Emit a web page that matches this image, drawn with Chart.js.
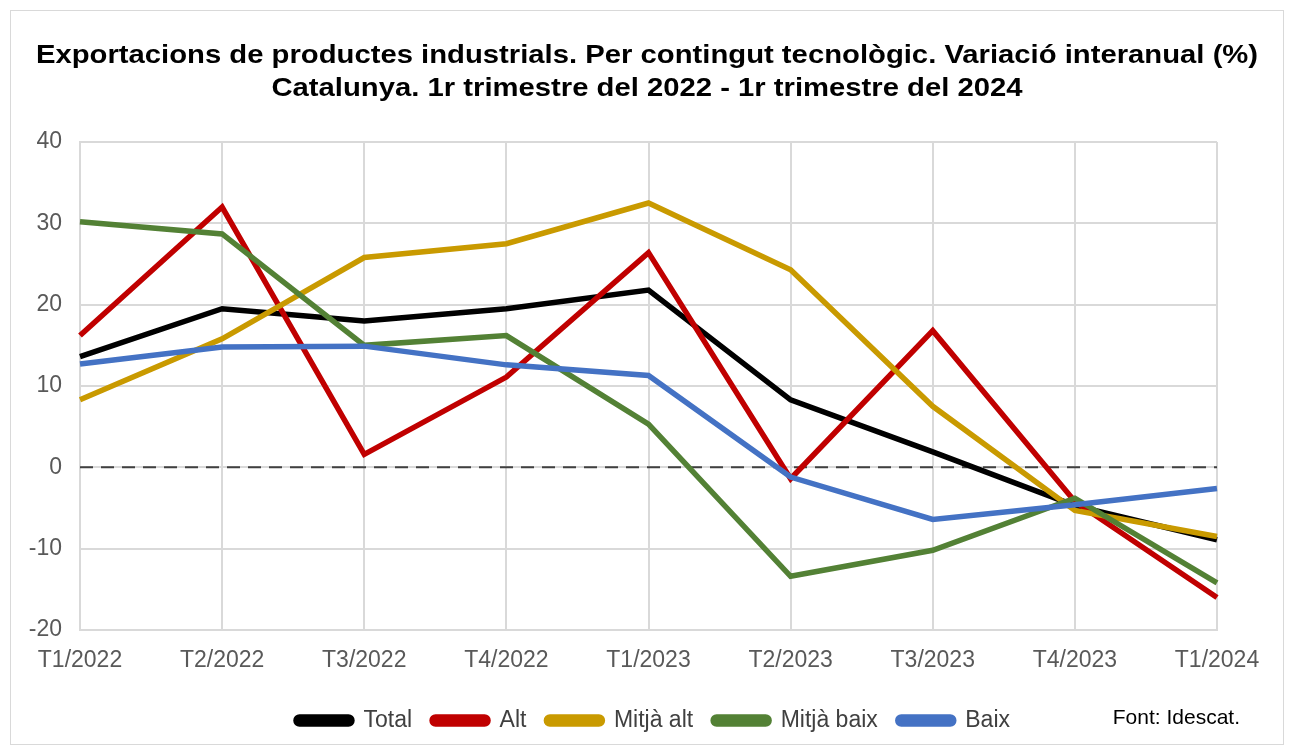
<!DOCTYPE html>
<html>
<head>
<meta charset="utf-8">
<script src="https://cdn.jsdelivr.net/npm/chart.js@4"></script>
<style>
  html, body { margin: 0; padding: 0; background: #fff; }
  #wrap { position: relative; width: 1294px; height: 751px; }
</style>
</head>
<body>
<div id="wrap"><canvas id="chart" width="1294" height="751"></canvas></div>
<script>
const quarters = ['T1/2022', 'T2/2022', 'T3/2022', 'T4/2022', 'T1/2023', 'T2/2023', 'T3/2023', 'T4/2023', 'T1/2024'];

const total     = [13.6, 19.5, 18.0, 19.5, 21.8, 8.3, 1.9, -4.7, -8.9];
const alt       = [16.2, 32.0, 1.6, 11.1, 26.4, -1.4, 16.8, -4.2, -16.0];
const mitjaAlt  = [8.3, 15.8, 25.8, 27.5, 32.5, 24.3, 7.5, -5.3, -8.5];
const mitjaBaix = [30.2, 28.7, 15.0, 16.2, 5.3, -13.4, -10.2, -3.8, -14.2];
const baix      = [12.7, 14.8, 14.9, 12.6, 11.3, -1.2, -6.4, -4.6, -2.6];
const zeroLine  = [0, 0, 0, 0, 0, 0, 0, 0, 0];

const yTicks = [-20, -10, 0, 10, 20, 30, 40];

const titleLines = ['Exportacions de productes industrials. Per contingut tecnològic. Variació interanual (%)',
                    'Catalunya. 1r trimestre del 2022 - 1r trimestre del 2024'];
const sourceNote = 'Font: Idescat.';

const FONT = "'Liberation Sans', Arial, sans-serif";

function series(label, data, color, order) {
    return {
        label: label,
        data: data,
        borderColor: color,
        backgroundColor: color,
        borderWidth: 5.5,
        pointRadius: 0,
        tension: 0,
        order: order
    };
}

// marco, títol (lleugerament eixamplat com a l'original) i nota de font
const decor = {
    id: 'decor',
    afterLayout(chart) {
        // centra la llegenda a tot l'ample, no només a l'àrea del gràfic
        const lg = chart.legend;
        const shift = chart.width / 2 + 6 - (lg.left + lg.right) / 2;
        lg.left += shift;
        lg.right += shift;
    },
    beforeDraw(chart) {
        const ctx = chart.ctx;
        ctx.save();
        ctx.strokeStyle = '#d9d9d9';
        ctx.lineWidth = 1;
        ctx.strokeRect(10.5, 10.5, chart.width - 21, chart.height - 17);
        ctx.restore();
    },
    afterDraw(chart) {
        const ctx = chart.ctx;
        const area = chart.chartArea;
        ctx.save();
        ctx.fillStyle = '#000';
        ctx.textAlign = 'center';
        ctx.textBaseline = 'middle';
        ctx.font = 'bold 25px ' + FONT;
        titleLines.forEach((line, i) => {
            ctx.save();
            ctx.translate(chart.width / 2, 56 + i * 33);
            ctx.scale(1.17, 1);
            ctx.fillText(line, 0, 0);
            ctx.restore();
        });
        const lg = chart.legend;
        ctx.font = '21px ' + FONT;
        ctx.textAlign = 'right';
        ctx.fillText(sourceNote, area.right + 23, (lg.top + lg.bottom) / 2 + 3);
        ctx.restore();
    }
};

const ctx = document.getElementById('chart').getContext('2d');
new Chart(ctx, {
    type: 'line',
    data: {
        labels: quarters,
        datasets: [
            series('Total', total, '#000000', 5),
            series('Alt', alt, '#c00000', 4),
            series('Mitjà alt', mitjaAlt, '#c99a00', 3),
            series('Mitjà baix', mitjaBaix, '#538135', 2),
            series('Baix', baix, '#4472c4', 1),
            {
                label: 'zero',
                data: zeroLine,
                borderColor: '#404040',
                borderWidth: 2,
                borderDash: [13, 8],
                pointRadius: 0,
                order: 10
            }
        ]
    },
    options: {
        responsive: false,
        animation: false,
        layout: { padding: { left: 0, right: 77, top: 142, bottom: 9 } },
        plugins: {
            title: { display: false },
            legend: {
                position: 'bottom',
                labels: {
                    color: '#404040',
                    font: { family: FONT, size: 23 },
                    boxWidth: 56,
                    boxHeight: 7,
                    useBorderRadius: true,
                    borderRadius: 3.5,
                    padding: 20,
                    filter: item => item.text !== 'zero',
                    sort: (a, b) => a.datasetIndex - b.datasetIndex
                }
            },
            tooltip: { enabled: false }
        },
        scales: {
            x: {
                grid: { color: '#d9d9d9', lineWidth: 2, drawTicks: false },
                border: { color: '#d9d9d9', width: 2 },
                ticks: { color: '#595959', font: { family: FONT, size: 23 }, padding: 17, maxRotation: 0 },
                afterFit: s => { s.height = 59; }
            },
            y: {
                min: -20,
                max: 40,
                afterBuildTicks: s => { s.ticks = yTicks.map(v => ({ value: v })); },
                grid: { color: '#d9d9d9', lineWidth: 2, drawTicks: false },
                border: { color: '#d9d9d9', width: 2 },
                ticks: { color: '#595959', font: { family: FONT, size: 23 }, padding: 18 },
                afterFit: s => { s.width = 80; }
            }
        }
    },
    plugins: [decor]
});
</script>
</body>
</html>
